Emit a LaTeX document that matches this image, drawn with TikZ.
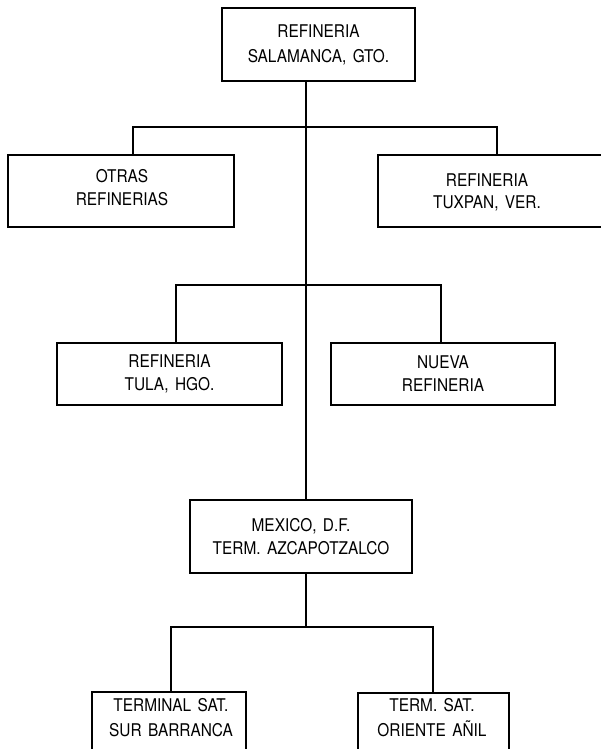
\documentclass[tikz,border=0pt]{standalone}
\usepackage{fontspec}
\setmainfont[FakeStretch=0.88, WordSpace=1.5]{TeX Gyre Heros}
\begin{document}
\begin{tikzpicture}[x=1pt,y=-1pt,
  box/.style={draw, line width=1.6pt, inner sep=0pt, align=center,
    font=\fontsize{17.5}{23}\selectfont},
  lbl/.style={inner sep=0pt, align=center, font=\fontsize{17.5}{25}\selectfont},
  conn/.style={line width=1.5pt, line join=miter}]
\clip (0,0) rectangle (601,749);
\useasboundingbox (0,0) rectangle (601,749);
% boxes
\node[box, minimum width=193pt, minimum height=73pt,
  font=\fontsize{17.5}{25}\selectfont] (top) at (318.5,44.5) {REFINERIA\\SALAMANCA, GTO.};
\node[box, minimum width=226pt, minimum height=72pt] (otras) at (121,191) {};
\node[lbl, font=\fontsize{17.5}{23}\selectfont] (otrast) at (122,188) {OTRAS\\REFINERIAS};
\node[box, minimum width=226pt, minimum height=72pt] (tux) at (491,191) {};
\node[lbl, font=\fontsize{17.5}{22}\selectfont] (tuxt) at (487,192) {REFINERIA\\TUXPAN, VER.};
\node[box, minimum width=225pt, minimum height=62pt] (tula) at (169.5,374) {REFINERIA\\TULA, HGO.};
\node[box, minimum width=224pt, minimum height=62pt] (nueva) at (443,374) {NUEVA\\REFINERIA};
\node[box, minimum width=222pt, minimum height=73pt] (mex) at (301,536.5) {MEXICO, D.F.\\TERM. AZCAPOTZALCO};
\node[box, minimum width=154pt, minimum height=80pt, anchor=north] (sur) at (169,691) {};
\node[lbl] (surt) at (171,718) {TERMINAL SAT.\\SUR BARRANCA};
\node[box, minimum width=151pt, minimum height=80pt, anchor=north] (ori) at (433.5,692) {};
\node[lbl] (orit) at (432,718) {TERM. SAT.\\ORIENTE AÑIL};
% junction coordinates
\coordinate (j1) at (306,127);
\coordinate (a1) at (133,127);
\coordinate (a2) at (497,127);
\coordinate (b1) at (176,285);
\coordinate (b2) at (441,285);
\coordinate (c0) at (306,627);
\coordinate (c1) at (171,627);
\coordinate (c2) at (433,627);
% connectors
\draw[conn] (top.south -| j1) -- (mex.north -| j1);
\draw[conn] (a1 |- otras.north) -- (a1) -- (a2) -- (a2 |- tux.north);
\draw[conn] (b1 |- tula.north) -- (b1) -- (b2) -- (b2 |- nueva.north);
\draw[conn] (mex.south -| c0) -- (c0);
\draw[conn] (c1 |- sur.north) -- (c1) -- (c2) -- (c2 |- ori.north);
\end{tikzpicture}
\end{document}
